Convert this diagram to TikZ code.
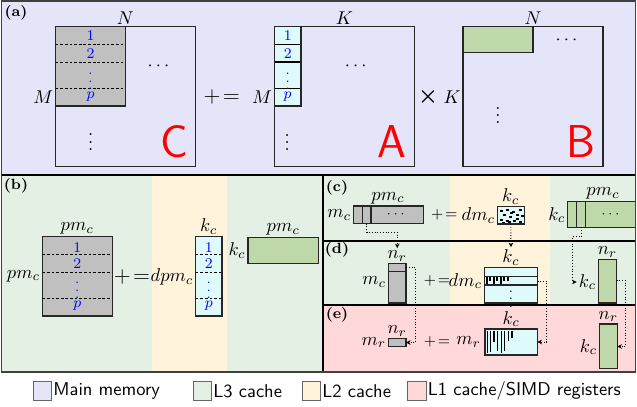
\documentclass[tikz,border=0pt]{standalone}
\usepackage{amsmath,amssymb}
\usepackage{xcolor}
\usepackage{tikz}
\usetikzlibrary{arrows.meta,positioning}

\definecolor{memcol}{RGB}{229,229,250}
\definecolor{lthreecol}{RGB}{228,240,228}
\definecolor{ltwocol}{RGB}{255,243,220}
\definecolor{lonecol}{RGB}{255,217,217}
\definecolor{packcol}{RGB}{192,192,192}
\definecolor{acol}{RGB}{222,250,250}
\definecolor{bcol}{RGB}{190,216,170}

\tikzset{
  blk/.style={draw=black!85, line width=0.6pt},
  sep/.style={line width=0.5pt, dash pattern=on 1.5pt off 1pt},
  conn/.style={densely dotted, line width=0.5pt, -{Stealth[length=2.5pt,width=2.5pt]}},
  num/.style={text=blue, font=\footnotesize, inner sep=0pt},
  big/.style={text=red, font=\sffamily\Huge, inner sep=0pt},
  tag/.style={font=\footnotesize\bfseries, inner sep=0pt},
  lab/.style={inner sep=1pt},
  dots/.style={inner sep=0pt},
  key/.style={draw=black!60, minimum size=10pt, inner sep=0pt},
}

\begin{document}
\begin{tikzpicture}[x=0.54pt, y=-0.54pt]
  \useasboundingbox (0,0) rectangle (637,406);

  % Memory level backgrounds
  \fill[memcol] (1.5,1) rectangle (635.5,175);
  \fill[lthreecol] (1.5,175) rectangle (152,372);
  \fill[ltwocol] (152,175) rectangle (227,372);
  \fill[lthreecol] (227,175) rectangle (323,372);
  \fill[lthreecol] (323,175) rectangle (450,305);
  \fill[ltwocol] (450,175) rectangle (550,305);
  \fill[lthreecol] (550,175) rectangle (635.5,305);
  \fill[lonecol] (323,305) rectangle (635.5,372);

  % Panel dividers
  \draw[line width=0.7pt] (1.5,175) -- (635.5,175);
  \draw[line width=0.7pt] (323,175) -- (323,372);
  \draw[line width=0.6pt] (323,241) -- (635.5,241);
  \draw[line width=0.6pt] (323,305) -- (635.5,305);

  % ---- (a) C += A x B
  \node[tag] (taga) at (16,13) {(a)};
  % C
  \fill[packcol] (55.7,26.7) rectangle (125.3,106);
  \foreach \y in {44.3,62,88.3}
    \draw[sep] (55.7,\y) -- (125.3,\y);
  \draw[blk] (55.7,26.7) rectangle (125.3,106);
  \draw[blk] (55.7,26.7) rectangle (195.7,166.7);
  \node[num] (ca1) at (90.5,35.7) {$1$};
  \node[num] (ca2) at (90.5,54) {$2$};
  \node[num, font=\scriptsize] (cav) at (90.5,76) {$\vdots$};
  \node[num] (cap) at (90.5,96.7) {$p$};
  \node[lab, above] (cN) at (125.3,26.7) {$N$};
  \node[lab, left] (cM) at (55.7,96.7) {$M$};
  \node[dots] (cdh) at (160,66.7) {$\cdots$};
  \node[dots] (cdv) at (90.7,136.7) {$\vdots$};
  \node[big] (cC) at (174,141.7) {C};
  \node[font=\large] (peqa) at (221.7,97) {$+\!=$};
  % A
  \node[lab, left] (aM) at (274.3,96.7) {$M$};
  \fill[acol] (274.3,26.7) rectangle (301,106);
  \foreach \y in {44.3,62,88.3}
    \draw[line width=0.6pt] (274.3,\y) -- (301,\y);
  \draw[blk] (274.3,26.7) rectangle (301,106);
  \draw[blk] (274.3,26.7) rectangle (414.7,166.7);
  \node[num] (aa1) at (287.7,35.7) {$1$};
  \node[num] (aa2) at (287.7,54) {$2$};
  \node[num, font=\scriptsize] (aav) at (287.7,76) {$\vdots$};
  \node[num] (aap) at (287.7,96.7) {$p$};
  \node[lab, above] (aK) at (344.5,26.7) {$K$};
  \node[dots] (adh) at (357.3,66.7) {$\cdots$};
  \node[dots] (adv) at (287.3,137) {$\vdots$};
  \node[big] (aA) at (392,142) {A};
  \node[font=\large] (tms) at (428,97) {$\boldsymbol{\times}$};
  % B
  \node[lab, left] (bK) at (463,96.7) {$K$};
  \fill[bcol] (463,26.7) rectangle (533,52.7);
  \draw[blk] (463,26.7) rectangle (533,52.7);
  \draw[blk] (463,26.7) rectangle (603,166.7);
  \node[lab, above] (bN) at (533,26.7) {$N$};
  \node[dots] (bdh) at (568,40) {$\cdots$};
  \node[dots] (bdv) at (498,110) {$\vdots$};
  \node[big] (bB) at (581.3,142) {B};

  % ---- (b) packed blocks
  \node[tag] (tagb) at (16,185.7) {(b)};
  \fill[packcol] (42.3,236.7) rectangle (112.3,316);
  \foreach \y in {254.7,272,298.3}
    \draw[sep] (42.3,\y) -- (112.3,\y);
  \draw[blk] (42.3,236.7) rectangle (112.3,316);
  \node[num] (cb1) at (77.3,247.3) {$1$};
  \node[num] (cb2) at (77.3,264) {$2$};
  \node[num, font=\scriptsize] (cbv) at (77.3,285) {$\vdots$};
  \node[num] (cbp) at (77.3,306) {$p$};
  \node[lab, above] (cbt) at (77.3,236.7) {$pm_c$};
  \node[lab, left] (cbl) at (42.3,276) {$pm_c$};
  \node[font=\large, inner sep=0pt] (peqb) at (132,277) {$+\!=$};
  \node[lab, left] (abl) at (195.7,277) {$dpm_c$};
  \fill[acol] (195.7,236.7) rectangle (222,316);
  \foreach \y in {254.7,272,298.3}
    \draw[sep] (195.7,\y) -- (222,\y);
  \draw[blk] (195.7,236.7) rectangle (222,316);
  \node[num] (ab1) at (208.8,247.3) {$1$};
  \node[num] (ab2) at (208.8,264) {$2$};
  \node[num, font=\scriptsize] (abv) at (208.8,285) {$\vdots$};
  \node[num] (abp) at (208.8,306) {$p$};
  \node[lab, above] (abt) at (208.8,236.7) {$k_c$};
  \node[lab, left] (bbl) at (248,250.3) {$k_c$};
  \fill[bcol] (248,237.3) rectangle (318.3,263.3);
  \draw[blk] (248,237.3) rectangle (318.3,263.3);
  \node[lab, above] (bbt) at (283.3,237.3) {$pm_c$};

  % ---- (c) L3 blocks
  \node[tag] (tagc) at (337,188) {(c)};
  \fill[packcol] (353.3,206) rectangle (423.3,223.5);
  \draw[blk] (353.3,206) rectangle (423.3,223.5);
  \draw[blk] (362.3,206) -- (362.3,223.5) (371,206) -- (371,223.5);
  \node[dots, font=\scriptsize] (ccd) at (397,214.5) {$\cdots$};
  \node[lab, above] (cct) at (388,206) {$pm_c$};
  \node[lab, left] (ccl) at (353.3,215) {$m_c$};
  \coordinate (cc-s) at (366.7,223.5);
  \node[font=\footnotesize, inner sep=0pt] (peqc) at (444.3,215) {$+\!=$};
  \node[lab, left] (acl) at (497.3,215.3) {$dm_c$};
  \fill[acol] (497.3,206.7) rectangle (524.3,224);
  \foreach \dx/\dy in {3/3,9/2,15/4,22/2,6/7,12/9,19/7,24/8,3/12,9/13,16/13,22/14,13/5,5/15,19/11,11/14}
    \fill (497.3+\dx,206.7+\dy) rectangle ++(2.2,2.2);
  \draw[blk] (497.3,206.7) rectangle (524.3,224);
  \node[lab, above] (act) at (510.8,206.7) {$k_c$};
  \coordinate (ac-s) at (510.8,224);
  \node[lab, left] (bcl) at (567.7,215) {$k_c$};
  \fill[bcol] (567.7,201.7) rectangle (635.5,227.3);
  \draw[blk] (635.5,201.7) -- (567.7,201.7) -- (567.7,227.3) -- (635.5,227.3);
  \draw[blk] (576.7,201.7) -- (576.7,227.3) (585.7,201.7) -- (585.7,227.3);
  \node[dots, font=\scriptsize] (bcd) at (611.7,214.5) {$\cdots$};
  \node[lab, above] (bct) at (603,201.7) {$pm_c$};
  \coordinate (bc-s) at (581.2,227.3);
  \coordinate (bc-b) at (572.5,236.7);

  % ---- (d) L2 blocks
  \node[tag] (tagd) at (337,250) {(d)};
  \fill[packcol] (388.3,263.3) rectangle (406,303);
  \draw[blk] (388.3,263.3) rectangle (406,303);
  \draw[blk] (388.3,271.7) -- (406,271.7);
  \node[lab, above] (cdt) at (397.2,263.3) {$n_r$};
  \node[lab, left] (cdl) at (388.3,282) {$m_c$};
  \coordinate (cd-r) at (406,267.5);
  \coordinate (cc-b) at (397.2,232.3);
  \node[font=\footnotesize, inner sep=0pt] (peqd) at (437,281) {$+\!=$};
  \node[lab, left] (adl) at (484.3,281) {$dm_c$};
  \fill[acol] (484.3,267.3) rectangle (537.7,303);
  \foreach \x/\e in {487/285,490/281,494/285,497/281,501/285,504/281,508/281}
    \draw[line width=0.8pt] (\x,276.7) -- (\x,\e);
  \draw[blk] (484.3,267.3) rectangle (537.7,303);
  \draw[blk] (484.3,276.7) -- (537.7,276.7) (484.3,285) -- (537.7,285);
  \node[dots, font=\scriptsize] (adv2) at (511,293.5) {$\vdots$};
  \node[lab, above] (adt) at (511,267.3) {$k_c$};
  \coordinate (ad-r) at (537.7,281);
  \node[lab, left] (bdl) at (598.3,282) {$k_c$};
  \fill[bcol] (598.3,259.3) rectangle (616.7,303);
  \draw[blk] (598.3,259.3) rectangle (616.7,303);
  \node[lab, above] (bdt) at (607.5,259.3) {$n_r$};
  \coordinate (bd-r) at (616.7,280);

  % ---- (e) L1 / registers
  \node[tag] (tage) at (337,315) {(e)};
  \fill[packcol] (388.3,338.3) rectangle (406,346.7);
  \draw[blk] (388.3,338.3) rectangle (406,346.7);
  \node[lab, above] (cet) at (397.2,338.3) {$n_r$};
  \node[lab, left] (cel) at (388.3,342.5) {$m_r$};
  \coordinate (ce-r) at (406,342.5);
  \node[font=\footnotesize, inner sep=0pt] (peqe) at (437,342) {$+\!=$};
  \node[lab, left, inner sep=2pt] (ael) at (485,342) {$m_r$};
  \fill[acol] (485,329) rectangle (537.3,355);
  \foreach \x/\e in {487.5/353,490.5/352,494/342,497.5/351,501.5/353,504.5/351,508.5/341,512/338}
    \draw[line width=1pt] (\x,330.5) -- (\x,\e);
  \draw[blk] (485,329) rectangle (537.3,355);
  \node[lab, above] (aet) at (511.2,329) {$k_c$};
  \coordinate (ae-r) at (537.3,342);
  \node[lab, left] (bel) at (599.3,347) {$k_c$};
  \fill[bcol] (599.3,324) rectangle (617.3,368.7);
  \draw[blk] (599.3,324) rectangle (617.3,368.7);
  \node[lab, above] (bet) at (608.3,324) {$n_r$};
  \coordinate (be-r) at (617.3,346.5);

  % Dotted data movement
  \draw[conn] (cc-s) |- (cc-b) -- (cdt.north);
  \draw[conn] (ac-s) -- (adt.north);
  \draw[conn] (bc-s) |- (bc-b) |- (bdl.west);
  \draw[conn] (cd-r) -- ++(9.7,0) |- (ce-r);
  \draw[conn] (ad-r) -- ++(9,0) |- (ae-r);
  \draw[conn] (bd-r) -- ++(8.5,0) |- (be-r);

  % Outer frame
  \draw[line width=1pt, black!75] (1.5,1) rectangle (635.5,372);

  % Legend
  \node[key, fill=memcol] (kmem) at (42.5,391) {};
  \node[right=0.5pt of kmem, font=\sffamily, inner sep=0pt] (kmemt) {Main memory};
  \node[key, fill=lthreecol] (kthree) at (202.5,391) {};
  \node[right=0.5pt of kthree, font=\sffamily, inner sep=0pt] (kthreet) {L3 cache};
  \node[key, fill=ltwocol] (ktwo) at (311.5,391) {};
  \node[right=0.5pt of ktwo, font=\sffamily, inner sep=0pt] (ktwot) {L2 cache};
  \node[key, fill=lonecol] (kone) at (417,391) {};
  \node[right=0.5pt of kone, font=\sffamily, inner sep=0pt] (konet) {L1 cache/SIMD registers};
\end{tikzpicture}
\end{document}
